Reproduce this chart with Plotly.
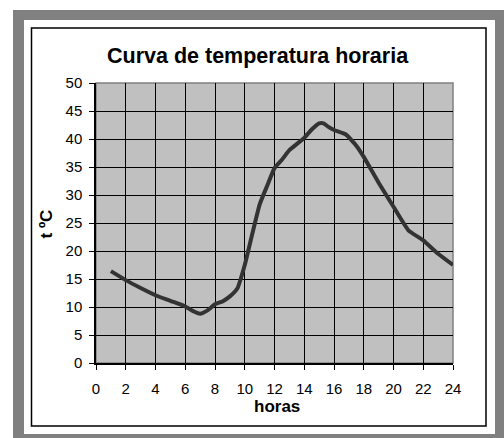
import plotly.graph_objects as go

# Data
hours = [1, 2, 3, 4, 5, 6, 6.5, 7, 7.5, 8, 8.5, 9, 9.5, 10, 10.5, 11, 11.5, 12,
         12.5, 13, 13.5, 14, 14.5, 15, 15.3, 15.6, 16, 16.8, 17.5, 18, 19, 20,
         21, 22, 23, 24]
temps = [16.4, 14.8, 13.4, 12.1, 11.1, 10.1, 9.3, 8.8, 9.4, 10.5, 11.0, 11.9,
         13.3, 17.5, 23.0, 28.3, 31.6, 34.8, 36.3, 38.0, 39.1, 40.2, 41.7, 42.8,
         42.8, 42.2, 41.6, 40.8, 38.8, 36.8, 32.2, 27.9, 23.7, 21.9, 19.5, 17.5]

x_ticks = list(range(0, 25, 2))
y_ticks = list(range(0, 51, 5))

title_text = "Curva de temperatura horaria"
x_title = "horas"
y_title = "t ºC"

FONT = "Arial, Liberation Sans, sans-serif"

# plot area in pixels: x 96..453, y 83..363
L, R, T, B = 96, 453, 83, 363
W, H = 504, 438
def px(x):
    return (x - L) / (R - L)
def py(y):
    return (B - y) / (B - T)

fig = go.Figure()
fig.add_trace(go.Scatter(
    x=hours, y=temps, mode="lines",
    line=dict(color="#333333", width=4, shape="spline", smoothing=0.4),
    hoverinfo="skip", showlegend=False,
))

shapes = [
    dict(type="rect", xref="paper", yref="paper", x0=px(13), x1=px(520),
         y0=py(450), y1=py(10), fillcolor="#808080", line=dict(width=0), layer="below"),
    dict(type="rect", xref="paper", yref="paper", x0=px(24), x1=px(495),
         y0=py(434), y1=py(20), fillcolor="white", line=dict(width=0), layer="below"),
    dict(type="rect", xref="paper", yref="paper", x0=px(31.5), x1=px(486),
         y0=py(426), y1=py(28), fillcolor="white",
         line=dict(color="black", width=1.5), layer="below"),
    dict(type="rect", xref="paper", yref="paper", x0=0, x1=1, y0=0, y1=1,
         fillcolor="#c0c0c0", line=dict(color="#808080", width=1.5), layer="below"),
]

annotations = [
    dict(text=f"<b>{title_text}</b>", xref="paper", yref="paper",
         x=px(258), y=py(56), xanchor="center", yanchor="middle",
         showarrow=False, font=dict(family=FONT, size=21.5, color="black")),
    dict(text=f"<b>{x_title}</b>", xref="paper", yref="paper",
         x=px(277), y=py(407), xanchor="center", yanchor="middle",
         showarrow=False, font=dict(family=FONT, size=17, color="black")),
    dict(text=f"<b>{y_title}</b>", xref="paper", yref="paper",
         x=px(45.5), y=py(224), xanchor="center", yanchor="middle", textangle=-90,
         showarrow=False, font=dict(family=FONT, size=17, color="black")),
]

fig.update_layout(
    width=W, height=H,
    margin=dict(l=L, r=W - R, t=T, b=H - B, pad=0),
    paper_bgcolor="white",
    plot_bgcolor="rgba(0,0,0,0)",
    shapes=shapes,
    annotations=annotations,
    font=dict(family=FONT, size=15, color="black"),
    xaxis=dict(range=[0, 24], tickvals=x_ticks, ticktext=[str(v) for v in x_ticks],
               showgrid=True, gridcolor="black", gridwidth=1,
               ticks="outside", ticklen=5, tickcolor="black", tickwidth=1,
               showline=True, linecolor="black", linewidth=1.5,
               zeroline=False, ticklabelstandoff=6, fixedrange=True),
    yaxis=dict(range=[0, 50], tickvals=y_ticks, ticktext=[str(v) for v in y_ticks],
               showgrid=True, gridcolor="black", gridwidth=1,
               ticks="outside", ticklen=5, tickcolor="black", tickwidth=1,
               showline=True, linecolor="black", linewidth=1.5,
               zeroline=False, ticklabelstandoff=4, fixedrange=True),
)

fig.write_html(
    "out.html",
    config={"displayModeBar": False},
    post_script="document.body.style.margin='0';document.body.style.overflow='hidden';",
)
